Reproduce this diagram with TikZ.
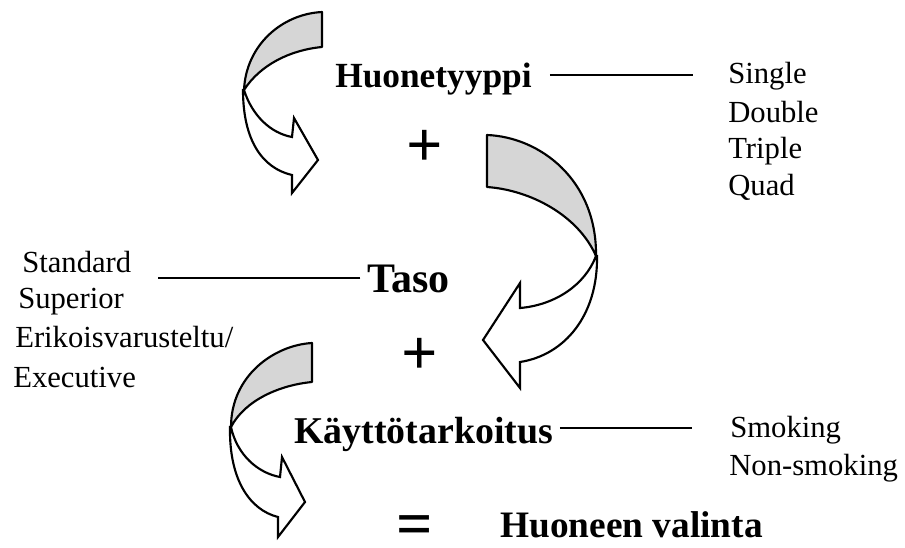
\documentclass[tikz,border=0pt]{standalone}
\usepackage{fontspec}
\setmainfont{Liberation Serif}
\usetikzlibrary{positioning}

\begin{document}
\begin{tikzpicture}[
  x=0.75pt, y=-0.75pt,
  every node/.style={inner sep=0pt},
  term/.style={font=\fontsize{28}{30}\selectfont\bfseries, anchor=base west,
    text height=18pt, text depth=0pt},
  item/.style={font=\fontsize{23}{28}\selectfont, anchor=base west},
  sign/.style={font=\fontsize{48}{50}\selectfont\bfseries, anchor=base,
    text height=20pt, text depth=0pt},
  link/.style={line width=1.3pt},
  band/.style={draw, line width=1.6pt, line join=round, fill=black!16},
  tail/.style={draw, line width=1.6pt, line join=miter, fill=white}
]
  \useasboundingbox (0,0) rectangle (905,547);

  % Nuoli 1 (ylhaalla vasemmalla)
  \filldraw[band] (322,12) .. controls (282,14) and (246,45) .. (244,90)
    .. controls (260,65) and (290,50) .. (322,47) -- cycle;
  \filldraw[tail] (244,90) .. controls (252,115) and (270,133) .. (292,137)
    -- (294,118) -- (318,160) -- (292,193) -- (292,175)
    .. controls (262,168) and (243,140) .. (243,90) -- cycle;

  % Nuoli 2 (oikealla)
  \filldraw[band] (487,135) .. controls (540,137) and (597,180) .. (596,256)
    .. controls (578,215) and (530,190) .. (487,187) -- cycle;
  \filldraw[tail] (596,256) .. controls (585,285) and (555,305) .. (520,308)
    -- (520,283) -- (483,340) -- (520,388) -- (520,362)
    .. controls (565,355) and (598,315) .. (597,256) -- cycle;

  % Nuoli 3 (alhaalla vasemmalla)
  \filldraw[band] (312,343) .. controls (275,345) and (231,375) .. (231,427)
    .. controls (245,400) and (280,385) .. (312,382) -- cycle;
  \filldraw[tail] (231,427) .. controls (237,455) and (258,473) .. (280,477)
    -- (282,457) -- (305,502) -- (278,537) -- (278,517)
    .. controls (250,510) and (229,480) .. (230,427) -- cycle;

  % Huonetyyppi
  \node[term, font=\fontsize{26.5}{30}\selectfont\bfseries] (huone) at (335,87) {Huonetyyppi};
  \node[item] (single) at (728,83) {Single};
  \node[item] (double) at (728,122) {Double};
  \node[item] (triple) at (728,158) {Triple};
  \node[item] (quad) at (728,195) {Quad};
  \node[sign] (plusa) at (425,166) {+};

  % Taso
  \node[term, font=\fontsize{31.5}{33}\selectfont\bfseries, text height=21pt] (taso) at (367,292) {Taso};
  \node[item] (standard) at (22,272) {Standard};
  \node[item] (superior) at (18,308) {Superior};
  \node[item] (erikois) at (15,347) {Erikoisvarusteltu/};
  \node[item] (executive) at (13,387) {Executive};
  \node[sign] (plusb) at (420,374) {+};

  % Kayttotarkoitus
  \node[term, font=\fontsize{28.4}{30}\selectfont\bfseries, text height=22.5pt] (kaytto) at (294,443) {Käyttötarkoitus};
  \node[item] (smoking) at (730,437) {Smoking};
  \node[item] (nonsmoking) at (729,475) {Non-smoking};

  % Tulos
  \node[sign] (equals) at (415,545) {=};
  \node[term] (valinta) at (500,537) {Huoneen valinta};

  % Viivat
  \draw[link, shorten <=13.5pt, shorten >=26pt] (huone.east) -- (huone.east -| single.west);
  \draw[link, shorten <=5pt, shorten >=20pt] (taso.west) -- (taso.west -| standard.east);
  \draw[link, shorten <=5pt, shorten >=28.5pt] (kaytto.east) -- (kaytto.east -| smoking.west);
\end{tikzpicture}
\end{document}
